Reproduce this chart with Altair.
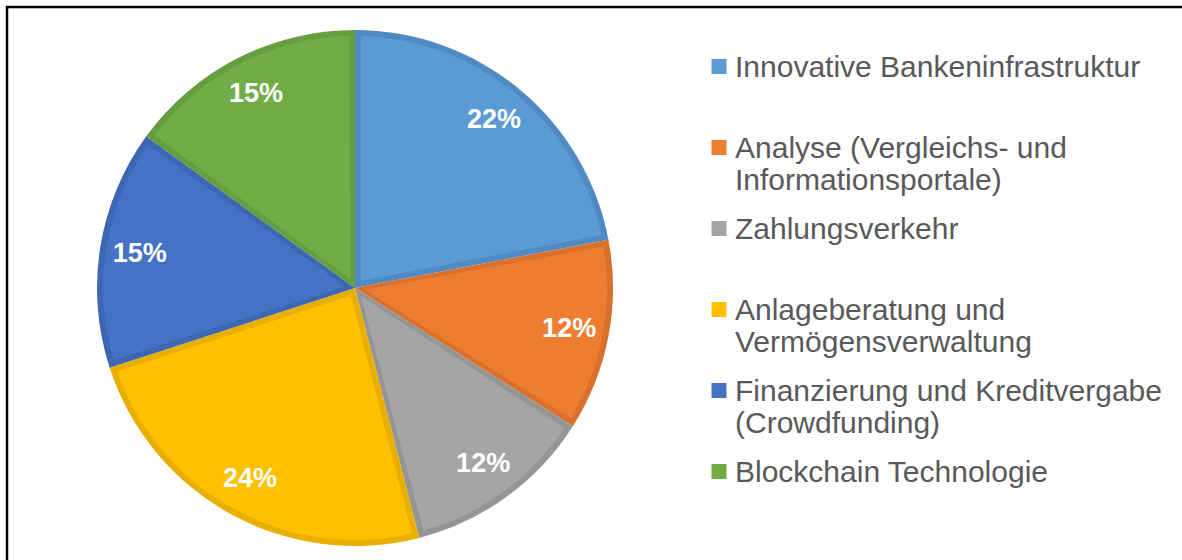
import altair as alt
import pandas as pd

categories = [
    "Innovative Bankeninfrastruktur",
    "Analyse (Vergleichs- und Informationsportale)",
    "Zahlungsverkehr",
    "Anlageberatung und Vermögensverwaltung",
    "Finanzierung und Kreditvergabe (Crowdfunding)",
    "Blockchain Technologie",
]
shares = [22, 12, 12, 24, 15, 15]
legend_lines = [
    ["Innovative Bankeninfrastruktur"],
    ["Analyse (Vergleichs- und", "Informationsportale)"],
    ["Zahlungsverkehr"],
    ["Anlageberatung und", "Vermögensverwaltung"],
    ["Finanzierung und Kreditvergabe", "(Crowdfunding)"],
    ["Blockchain Technologie"],
]
fill_colors = ["#5B9BD5", "#ED7D31", "#A5A5A5", "#FFC000", "#4472C4", "#70AD47"]
edge_colors = ["#4F8AC2", "#D9702B", "#959595", "#E8AF00", "#3D67B2", "#649E3E"]

idx = list(range(len(categories)))
df = pd.DataFrame({
    "category": categories,
    "share": shares,
    "idx": idx,
    "label": [f"{s}%" for s in shares],
})

# legend label expression: break long names into lines
expr = "datum.label"
for cat, lines in reversed(list(zip(categories, legend_lines))):
    arr = "[" + ", ".join("'" + l.replace("'", "\\'") + "'" for l in lines) + "]"
    expr = f"datum.label == '{cat}' ? {arr} : ({expr})"

base = alt.Chart(df).encode(
    theta=alt.Theta("share:Q", stack=True),
    order=alt.Order("idx:Q"),
)

# darker edge band (full slice in edge colour)
edges = base.mark_arc(radius=258).encode(
    fill=alt.Fill(
        "idx:N",
        scale=alt.Scale(domain=idx, range=edge_colors),
        legend=None,
    ),
)

# inner fill, inset from the edges
arcs = base.mark_arc(radius=252, radius2=10, padAngle=0.047).encode(
    color=alt.Color(
        "category:N",
        sort=categories,
        scale=alt.Scale(domain=categories, range=fill_colors),
        legend=alt.Legend(
            title=None,
            orient="none",
            legendX=704,
            legendY=22,
            padding=0,
            symbolType="M-1,0.8H1V2.8H-1Z",
            symbolSize=225,
            symbolStrokeWidth=0,
            symbolOpacity=1,
            labelBaseline="top",
            labelFont="Liberation Sans",
            labelFontSize=30,
            labelColor="#595959",
            labelOffset=1,
            labelLimit=600,
            labelExpr=expr,
            gridAlign="all",
            rowPadding=4,
        ),
    ),
)

texts = base.mark_text(
    radius=218,
    font="Liberation Sans",
    fontSize=27,
    fontWeight="bold",
    color="white",
    align="center",
    baseline="middle",
).encode(text="label:N")

frame_df = pd.DataFrame({"a": [0]})
top_line = alt.Chart(frame_df).mark_rule(color="black", strokeWidth=2.5).encode(
    x=alt.value(6), x2=alt.value(1182), y=alt.value(-9)
)
left_line = alt.Chart(frame_df).mark_rule(color="black", strokeWidth=2.5).encode(
    x=alt.value(7), y=alt.value(-10), y2=alt.value(544)
)

chart = alt.layer(edges, arcs, texts, top_line, left_line).properties(
    width=710,
    height=544,
    padding={"left": 0, "top": 16, "right": 472, "bottom": 0},
    autosize=alt.AutoSizeParams(type="none"),
    background="white",
).configure_view(strokeWidth=0)

chart.save("out.html", embed_options={"renderer": "svg", "actions": False})
